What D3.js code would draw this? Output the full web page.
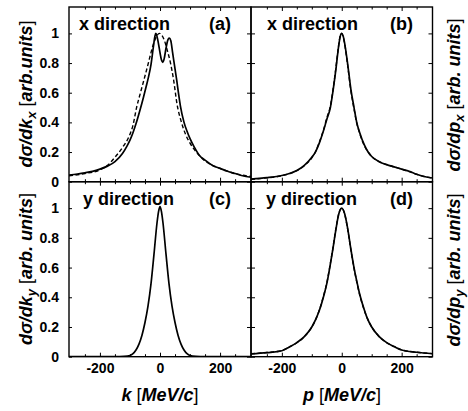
<!DOCTYPE html>
<html>
<head>
<meta charset="utf-8">
<title>momentum distributions</title>
<style>
  body { margin: 0; background: #fff; }
  svg { display: block; font-family: "Liberation Sans", Arial, sans-serif; }
  .tick text { font-weight: bold; font-size: 14px; fill: #000; }
  .tick line { stroke: #000; stroke-width: 1; }
  .curve { fill: none; stroke: #000; }
</style>
</head>
<body>
<div id="chart"></div>
<script src="https://cdn.jsdelivr.net/npm/d3@7/dist/d3.min.js"></script>
<script>

  // tick values
  let xMajor = [-200, 0, 200];
  let xMinor = [-250, -150, -100, -50, 50, 100, 150, 250];
  let yMajor = [0, 0.2, 0.4, 0.6, 0.8, 1];

  // (a) x direction, k
  let kA = [-303, -275, -250, -225, -200, -175, -150, -125, -110, -100, -90, -80, -67, -55, -45, -39, -30, -22, -17, -14, -10, -5, 0, 5, 9, 14, 20, 26, 31, 36, 42, 50, 56, 62, 68, 80, 90, 100, 115, 130, 150, 175, 200, 225, 250, 275, 303];
  let solidA = [0.045, 0.052, 0.06, 0.07, 0.085, 0.105, 0.135, 0.19, 0.24, 0.28, 0.33, 0.39, 0.48, 0.57, 0.65, 0.7, 0.79, 0.91, 0.98, 1.0, 0.98, 0.93, 0.87, 0.82, 0.805, 0.83, 0.9, 0.955, 0.968, 0.95, 0.87, 0.76, 0.68, 0.59, 0.51, 0.4, 0.34, 0.29, 0.23, 0.18, 0.145, 0.11, 0.09, 0.07, 0.055, 0.04, 0.03];
  let kAd = [-303, -250, -200, -175, -150, -125, -100, -90, -78, -65, -53, -40, -30, -20, -10, -2, 5, 15, 25, 35, 45, 57, 70, 85, 100, 125, 150, 175, 200, 250, 303];
  let dashedA = [0.04, 0.055, 0.08, 0.11, 0.165, 0.23, 0.32, 0.38, 0.5, 0.6, 0.69, 0.79, 0.87, 0.94, 0.985, 1.0, 0.99, 0.95, 0.88, 0.8, 0.69, 0.52, 0.41, 0.32, 0.26, 0.19, 0.14, 0.11, 0.09, 0.055, 0.035];

  // (b) x direction, p
  let pB = [-303, -250, -200, -175, -150, -125, -100, -88, -75, -60, -50, -38, -30, -20, -10, -5, 0, 5, 10, 20, 30, 41, 50, 60, 75, 88, 100, 125, 150, 175, 200, 225, 250, 275, 303];
  let solidB = [0.017, 0.027, 0.042, 0.055, 0.075, 0.11, 0.165, 0.2, 0.26, 0.35, 0.42, 0.5, 0.6, 0.75, 0.92, 0.98, 1.0, 0.98, 0.93, 0.79, 0.63, 0.5, 0.4, 0.33, 0.25, 0.2, 0.17, 0.135, 0.115, 0.1, 0.085, 0.07, 0.05, 0.035, 0.025];
  let dashedB = [0.016, 0.026, 0.04, 0.054, 0.074, 0.108, 0.16, 0.2, 0.265, 0.355, 0.43, 0.51, 0.61, 0.76, 0.925, 0.985, 1.0, 0.975, 0.925, 0.78, 0.62, 0.49, 0.395, 0.325, 0.245, 0.2, 0.17, 0.135, 0.115, 0.1, 0.084, 0.068, 0.05, 0.035, 0.024];

  // (c) y direction, k
  let kC = [-303, -150, -120, -100, -90, -80, -70, -60, -50, -40, -30, -20, -10, -5, 0, 5, 10, 20, 30, 40, 50, 60, 70, 80, 90, 100, 120, 150, 303];
  let solidC = [0, 0, 0.002, 0.008, 0.02, 0.045, 0.085, 0.145, 0.23, 0.34, 0.49, 0.69, 0.9, 0.975, 1.01, 0.975, 0.9, 0.69, 0.49, 0.34, 0.23, 0.145, 0.085, 0.045, 0.02, 0.008, 0.002, 0, 0];

  // (d) y direction, p
  let pD = [-303, -250, -200, -175, -150, -125, -100, -85, -70, -60, -49, -40, -30, -20, -10, 0, 10, 20, 30, 40, 51, 60, 70, 85, 100, 125, 150, 175, 200, 250, 303];
  let solidD = [0.018, 0.027, 0.04, 0.065, 0.095, 0.135, 0.2, 0.26, 0.34, 0.41, 0.5, 0.6, 0.72, 0.85, 0.96, 1.0, 0.96, 0.86, 0.73, 0.61, 0.5, 0.42, 0.35, 0.26, 0.2, 0.135, 0.095, 0.068, 0.045, 0.03, 0.02];
  let dashedD = [0.02, 0.028, 0.042, 0.066, 0.094, 0.134, 0.2, 0.26, 0.345, 0.415, 0.505, 0.605, 0.725, 0.855, 0.962, 1.0, 0.958, 0.855, 0.725, 0.605, 0.495, 0.415, 0.345, 0.26, 0.2, 0.135, 0.095, 0.068, 0.046, 0.03, 0.021];

  let width = 468, height = 411;
  let colX = [69, 251, 432.5];
  let rowY = [7, 181.7, 356.7];

  let svg = d3.select("#chart").append("svg")
    .attr("width", width)
    .attr("height", height);

  let panels = [
    { col: 0, row: 0, title: "x direction", tag: "(a)", tx: 79, lines: [[kA, solidA, false], [kAd, dashedA, true]] },
    { col: 1, row: 0, title: "x direction", tag: "(b)", tx: 267, lines: [[pB, dashedB, true], [pB, solidB, false]] },
    { col: 0, row: 1, title: "y direction", tag: "(c)", tx: 83, lines: [[kC, solidC, false]] },
    { col: 1, row: 1, title: "y direction", tag: "(d)", tx: 266, lines: [[pD, dashedD, true], [pD, solidD, false]] }
  ];

  panels.forEach((p, i) => {
    let x0 = colX[p.col], x1 = colX[p.col + 1];
    let y0 = rowY[p.row], y1 = rowY[p.row + 1];

    let x = d3.scaleLinear().domain([-303, 303]).range([x0, x1]);
    let y = d3.scaleLinear().domain([0, 1.178]).range([y1, y0]);

    svg.append("clipPath").attr("id", "clip" + i)
      .append("rect").attr("x", x0).attr("y", y0).attr("width", x1 - x0).attr("height", y1 - y0);

    let line = d3.line()
      .x(d => x(d[0]))
      .y(d => y(d[1]))
      .curve(d3.curveMonotoneX);

    p.lines.forEach(([xs, ys, dashed]) => {
      svg.append("path")
        .datum(xs.map((v, j) => [v, ys[j]]))
        .attr("class", "curve")
        .attr("clip-path", `url(#clip${i})`)
        .attr("stroke-width", dashed ? 1.4 : 1.7)
        .attr("stroke-dasharray", dashed ? "4,2.5" : null)
        .attr("d", line);
    });

    // x ticks: bottom edge
    let bottom = svg.append("g").attr("transform", `translate(0,${y1})`);
    bottom.append("g").call(d3.axisBottom(x).tickValues(xMajor).tickSize(-4)
      .tickPadding(6).tickFormat(p.row === 1 ? d => d : ""));
    bottom.append("g").call(d3.axisBottom(x).tickValues(xMinor).tickSize(-2.5).tickFormat(""));
    bottom.selectAll(".domain").remove();

    // x ticks: top edge
    let top = svg.append("g").attr("transform", `translate(0,${y0})`);
    top.append("g").call(d3.axisTop(x).tickValues(xMajor).tickSize(-4).tickFormat(""));
    top.append("g").call(d3.axisTop(x).tickValues(xMinor).tickSize(-2.5).tickFormat(""));
    top.selectAll(".domain").remove();

    // y ticks
    let left = svg.append("g").attr("transform", `translate(${x0},0)`);
    left.call(d3.axisLeft(y).tickValues(yMajor).tickSize(p.col === 0 ? 4 : -4)
      .tickPadding(6).tickFormat(p.col === 0 ? d => d : ""));
    if (p.col === 0) left.selectAll(".tick line").attr("x2", 3);
    left.select(".domain").remove();

    let right = svg.append("g").attr("transform", `translate(${x1},0)`);
    right.call(d3.axisRight(y).tickValues(yMajor).tickSize(-4).tickFormat(""));
    right.select(".domain").remove();

    svg.append("rect")
      .attr("x", x0).attr("y", y0)
      .attr("width", x1 - x0).attr("height", y1 - y0)
      .attr("fill", "none").attr("stroke", "#000").attr("stroke-width", 1.4);

    svg.append("text")
      .attr("x", p.tx).attr("y", y0 + 23)
      .attr("font-size", 18).attr("font-weight", "bold")
      .text(p.title);

    svg.append("text")
      .attr("x", x0 + 162).attr("y", y0 + 23)
      .attr("font-size", 18).attr("font-weight", "bold")
      .attr("text-anchor", "end")
      .text(p.tag);
  });

  // y axis titles
  function yTitle(cx, cy, head, sub, units) {
    let t = svg.append("text")
      .attr("transform", `translate(${cx},${cy}) rotate(-90)`)
      .attr("text-anchor", "middle")
      .attr("font-size", 18);
    t.append("tspan").attr("font-weight", "bold").attr("font-style", "italic").text(head);
    t.append("tspan").attr("font-weight", "bold").attr("font-style", "italic")
      .attr("font-size", 13).attr("dy", 4).text(sub);
    t.append("tspan").attr("dy", -4).text(" [");
    t.append("tspan").attr("font-weight", "bold").attr("font-style", "italic").text(units);
    t.append("tspan").text("]");
  }

  yTitle(32, 94, "dσ/dk", "x", "arb.units");
  yTitle(32, 269, "dσ/dk", "y", "arb. units");
  yTitle(460, 95, "dσ/dp", "x", "arb. units");
  yTitle(460, 270, "dσ/dp", "y", "arb. units");

  // x axis titles
  function xTitle(cx, head) {
    let t = svg.append("text")
      .attr("x", cx).attr("y", 401)
      .attr("text-anchor", "middle")
      .attr("font-size", 18);
    t.append("tspan").attr("font-weight", "bold").attr("font-style", "italic").text(head);
    t.append("tspan").text(" [");
    t.append("tspan").attr("font-weight", "bold").attr("font-style", "italic").text("MeV/c");
    t.append("tspan").text("]");
  }

  xTitle(160, "k");
  xTitle(342, "p");

</script>
</body>
</html>
